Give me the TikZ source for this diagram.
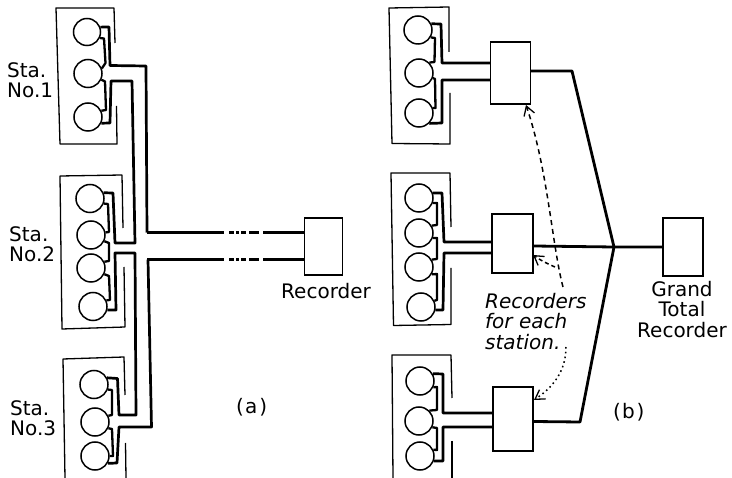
\documentclass[tikz,border=0pt]{standalone}
\usepackage{fontspec}
\setmainfont{DejaVu Sans}
\newfontfamily\lbl{DejaVu Sans}
\usetikzlibrary{arrows.meta}
\tikzset{
  x=1pt,y=-1pt,
  panel/.style={draw=black,line width=1.3pt,line join=round},
  wire/.style={draw=black,line width=2.7pt,line join=round},
  tie/.style={draw=black,line width=2.3pt,line join=round},
  outwire/.style={draw=black,line width=2.8pt,line join=round},
  lamp/.style={circle,draw=black,line width=1.5pt,minimum size=28pt,inner sep=0pt},
  recbox/.style={rectangle,draw=black,line width=1.3pt,inner sep=0pt},
  lettering/.style={anchor=north west,inner sep=0pt,align=left,font=\lbl\fontsize{20}{20}\selectfont},
  centred/.style={anchor=north,inner sep=0pt,align=center,font=\lbl\fontsize{20}{20.5}\selectfont},
  slanted/.style={anchor=north west,inner sep=0pt,align=left,font=\lbl\itshape\fontsize{20}{20.5}\selectfont},
  breakline/.style={dash pattern=on 77pt off 5pt on 5pt off 2pt on 3pt off 2pt on 5pt off 3pt on 10pt off 4pt on 60pt},
  pointer/.style={line width=1.5pt,-{Straight Barb[length=9pt,width=11pt,line width=1.3pt]}},
}
\begin{document}
\begin{tikzpicture}
\useasboundingbox (0,0) rectangle (732,478);
% ---------- (a) station panels
\draw[panel] (115,43) -- (114,8) -- (56,8) -- (60,144) -- (117,144) -- (116.5,106);
\draw[panel] (123,228) -- (122,175) -- (60,176) -- (62,329) -- (125,327) -- (124,267);
\draw[panel] (125,395) -- (124,357) -- (63,359) -- (65,478);
\draw[panel] (125.5,443) -- (126,478);
% lamps (a)
\node[lamp,minimum size=27pt] (a11) at (87,32) {};
\node[lamp] (a12) at (88,73.5) {};
\node[lamp] (a13) at (88,117) {};
\node[lamp] (a21) at (90,198.5) {};
\node[lamp] (a22) at (91,235) {};
\node[lamp] (a23) at (91,268) {};
\node[lamp] (a24) at (93,306.5) {};
\node[lamp] (a31) at (94,384.5) {};
\node[lamp] (a32) at (95,422) {};
\node[lamp] (a33) at (95,456) {};
% recorder (a)
\node[recbox,minimum width=38pt,minimum height=57pt] (ra) at (323.5,246.5) {};
\coordinate (raU) at (ra.west |- 0,232.5);
\coordinate (raL) at (ra.west |- 0,259.5);
% wires (a)
\draw[wire] (a11.20) -- (109,27) -- (110,65.5) -- (146,66) -- (147,232.5);
\draw[wire,breakline] (147,232.5) -- (raU);
\draw[wire] (a13.-25) -- (110,123) -- (111,81) -- (132,81) -- (135,243) -- (115,243) -- (113,193) -- (a21.23);
\draw[wire] (a24.-14) -- (116,310) -- (115,253) -- (135,253) -- (136,415) -- (119,415) -- (117.5,378.5) -- (a31.27);
\draw[wire] (a33.-30) -- (117,463) -- (119,427) -- (151.5,427) -- (148,259.5);
\draw[wire,breakline] (147,259.5) -- (raL);
\draw[tie] (a11.-25) -- (104,38.5) -- (105.5,63) -- (a12.20);
\draw[tie] (a12.-25) -- (105,81.5) -- (106,110) -- (a13.25);
\draw[tie] (a21.-20) -- (108,204) -- (109,232) -- (a22.10);
\draw[tie] (a22.-25) -- (109,243) -- (109,261) -- (a23.25);
\draw[tie] (a23.-25) -- (109,276) -- (110,300) -- (a24.25);
\draw[tie] (a31.-20) -- (112,390) -- (112,415) -- (a32.25);
\draw[tie] (a32.-25) -- (112,429) -- (113,456) -- (a33.0);
% ---------- (b) station panels
\draw[panel] (449,52) -- (449,7) -- (389,8) -- (392,143.5) -- (450,144) -- (450,93);
\draw[panel] (451,227) -- (450,173) -- (391,173) -- (393.5,325.5) -- (451,324.5) -- (451,268);
\draw[panel] (452,398) -- (451,355) -- (392,355) -- (393,478);
\draw[panel] (452,441) -- (452,478);
% lamps (b)
\node[lamp] (b11) at (418,30) {};
\node[lamp] (b12) at (419,73) {};
\node[lamp] (b13) at (419,113) {};
\node[lamp] (b21) at (419,198) {};
\node[lamp] (b22) at (419,233) {};
\node[lamp] (b23) at (419,267) {};
\node[lamp] (b24) at (421,307) {};
\node[lamp] (b31) at (420,381) {};
\node[lamp] (b32) at (419,421) {};
\node[lamp] (b33) at (420,456) {};
% recorders (b)
\node[recbox,minimum width=40pt,minimum height=62pt] (rb1) at (510.5,73) {};
\node[recbox,minimum width=41pt,minimum height=59pt] (rb2) at (512.5,243.5) {};
\node[recbox,minimum width=40pt,minimum height=64pt] (rb3) at (513,419) {};
\node[recbox,minimum width=40pt,minimum height=58pt] (grand) at (683,247) {};
\coordinate (hub) at (614,247);
% wires (b)
\draw[wire] (b11.25) -- (441,24) -- (442,63) -- (rb1.west |- 0,63);
\draw[wire] (b13.-45) -- (442,123) -- (442,80) -- (rb1.west |- 0,80);
\draw[wire] (b21.20) -- (442,193) -- (444,242) -- (rb2.west |- 0,242);
\draw[wire] (b24.-12) -- (443,310) -- (444,253) -- (rb2.west |- 0,253);
\draw[wire] (b31.30) -- (443,374) -- (443,413) -- (rb3.west |- 0,413);
\draw[wire] (b33.-20) -- (443,461) -- (443,427) -- (rb3.west |- 0,427);
\draw[tie] (b11.-30) -- (435,38) -- (434.5,62) -- (b12.45);
\draw[tie] (b12.-20) -- (435,79) -- (435.5,108) -- (b13.20);
\draw[tie] (b21.-20) -- (437,203) -- (437,225) -- (b22.30);
\draw[tie] (b22.-20) -- (437,238) -- (437,259) -- (b23.30);
\draw[tie] (b23.-30) -- (437,274) -- (437,300) -- (b24.25);
\draw[tie] (b31.-25) -- (437,387) -- (437,410) -- (b32.45);
\draw[tie] (b32.-25) -- (437,428) -- (437,450) -- (b33.25);
% outputs
\draw[outwire] (rb1.east |- 0,71) -- (572,71) -- (hub);
\draw[outwire] (rb3.east |- 0,421.5) -- (580,422) -- (hub);
\draw[outwire] (rb2.east |- 0,246) -- (hub) -- (grand.west |- hub);
% pointers
\coordinate (tipa) at (526,105);
\coordinate (tipb) at (533,255);
\coordinate (tipc) at (534,400);
\coordinate (forka) at (563,287);
\coordinate (forkb) at (555,267);
\coordinate (dota) at (566,347);
\draw[pointer,dash pattern=on 5pt off 4pt] (forka) .. controls (552,245) and (548,170) .. (tipa);
\draw[pointer,dash pattern=on 4pt off 3pt] (forkb) .. controls (548,264) and (540,260) .. (tipb);
\draw[pointer,dash pattern=on 1.6pt off 3.2pt] (dota) .. controls (566,372) and (552,388) .. (tipc);
% ---------- labels
\node[lettering] (s1) at (7,62) {Sta.\\No.1};
\node[lettering] (s2) at (9,226) {Sta.\\No.2};
\node[lettering] (s3) at (10,400) {Sta.\\No.3};
\node[lettering] (rl) at (281,283) {Recorder};
\node[centred] (gl) at (682,281) {Grand\\Total\\Recorder};
\node[slanted] (fl) at (485,293) {Recorders\\for each\\station.};
\node[lettering] (ca) at (236,398) {(\kern1pt a\kern2pt)};
\node[lettering] (cb) at (613,403) {(\kern1pt b\kern2pt)};
\end{tikzpicture}
\end{document}
